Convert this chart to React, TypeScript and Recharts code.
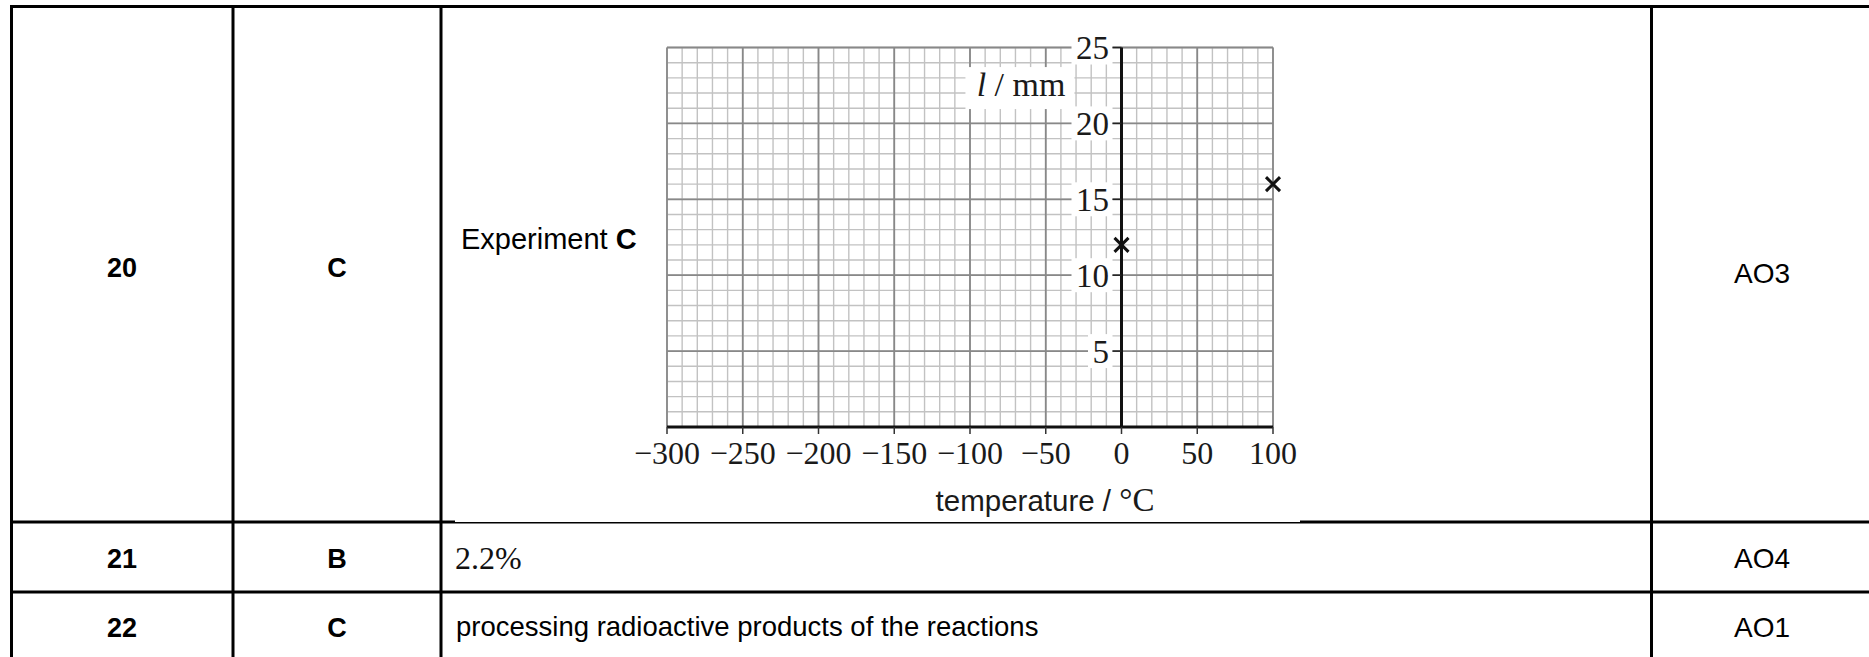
import React from 'react';
import {
  ScatterChart,
  Scatter,
  XAxis,
  YAxis,
  ReferenceLine,
  ReferenceDot,
  Label,
} from 'recharts';

// ---- chart data ----
const temperatureC = [0, 100];
const lengthMm = [12, 16];
const xTicks = [-300, -250, -200, -150, -100, -50, 0, 50, 100];
const yTicks = [0, 5, 10, 15, 20, 25];
const yLabelTicks = [5, 10, 15, 20, 25];
const xMinorTicks = Array.from({ length: 41 }, (_, i) => -300 + i * 10);
const yMinorTicks = Array.from({ length: 26 }, (_, i) => i);
const xAxisTitle = 'temperature / ';
const xAxisUnit = '°C';
const yAxisSymbol = 'l';
const yAxisUnit = ' / mm';

// ---- table data ----
const questionNumbers = ['20', '21', '22'];
const answerKeys = ['C', 'B', 'C'];
const objectives = ['AO3', 'AO4', 'AO1'];
const experimentLabel = 'Experiment ';
const experimentLetter = 'C';
const answerNotes = ['2.2%', 'processing radioactive products of the reactions'];

const SERIF = '"Liberation Serif", "Times New Roman", serif';
const SANS = '"Liberation Sans", Arial, sans-serif';

const points = temperatureC.map((t, i) => ({ t, l: lengthMm[i] }));

const fmtX = (v: number) => (v < 0 ? '\u2212' + Math.abs(v) : String(v));

const MINOR = '#c2c2c2';
const MAJOR = '#888888';

const XMark = (props: any) => {
  const { cx, cy } = props;
  if (cx == null || cy == null) return null;
  const h = 7;
  return (
    <g stroke="#111" strokeWidth={3}>
      <line x1={cx - h} y1={cy - h} x2={cx + h} y2={cy + h} />
      <line x1={cx - h} y1={cy + h} x2={cx + h} y2={cy - h} />
    </g>
  );
};

const YTick = ({ cx, cy, value }: any) => {
  if (cx == null || cy == null) return null;
  const tw = String(value).length * 16.5;
  return (
    <g>
      <rect x={cx - 13 - tw - 4} y={cy - 17} width={tw + 8} height={34} fill="#fff" />
      <line x1={cx - 9} x2={cx} y1={cy} y2={cy} stroke="#222" strokeWidth={1.5} />
      <text x={cx - 12.5} y={cy + 11.5} textAnchor="end" fontFamily={SERIF} fontSize={33} fill="#1a1a1a">
        {value}
      </text>
    </g>
  );
};

const YTitle = ({ cx, cy }: any) => {
  if (cx == null || cy == null) return null;
  return (
    <g>
      <rect x={cx - 100} y={cy - 29} width={109} height={42} fill="#fff" />
      <text x={cx} y={cy} textAnchor="end" fontFamily={SERIF} fontSize={34} fill="#1a1a1a">
        <tspan fontStyle="italic">{yAxisSymbol}</tspan>
        <tspan>{yAxisUnit}</tspan>
      </text>
    </g>
  );
};

const XTitle = (props: any) => {
  const vb = props.viewBox || {};
  const x = (vb.x || 0) + (vb.width || 0) / 2 + 75;
  const y = (vb.y || 0) + 84;
  return (
    <text x={x} y={y} textAnchor="middle" fontSize={29.5} fill="#1a1a1a">
      <tspan fontFamily={SANS}>{xAxisTitle}</tspan>
      <tspan fontFamily={SERIF} fontSize={33}>{xAxisUnit}</tspan>
    </text>
  );
};

const Chart = () => (
  <ScatterChart
    width={720}
    height={510}
    margin={{ top: 27.5, right: 47, left: 67, bottom: 23 }}
  >
    <YAxis yAxisId="major" type="number" dataKey="l" domain={[0, 25]} ticks={yTicks} hide />
    <XAxis
      xAxisId="major"
      type="number"
      dataKey="t"
      domain={[-300, 100]}
      ticks={xTicks}
      interval={0}
      height={80}
      tickFormatter={fmtX}
      tick={{ fontFamily: SERIF, fontSize: 32, fill: '#1a1a1a' }}
      tickSize={7}
      tickMargin={7}
      tickLine={{ stroke: '#333', strokeWidth: 1.5 }}
      axisLine={{ stroke: '#111', strokeWidth: 3 }}
    >
      <Label content={XTitle} />
    </XAxis>
    {xMinorTicks.map((v) => (
      <ReferenceLine key={'xm' + v} xAxisId="major" yAxisId="major" x={v} stroke={MINOR} strokeWidth={1.4} />
    ))}
    {yMinorTicks.map((v) => (
      <ReferenceLine key={'ym' + v} xAxisId="major" yAxisId="major" y={v} stroke={MINOR} strokeWidth={1.4} />
    ))}
    {xTicks.map((v) => (
      <ReferenceLine key={'xM' + v} xAxisId="major" yAxisId="major" x={v} stroke={MAJOR} strokeWidth={1.8} />
    ))}
    {yTicks.slice(1).map((v) => (
      <ReferenceLine key={'yM' + v} xAxisId="major" yAxisId="major" y={v} stroke={MAJOR} strokeWidth={1.8} />
    ))}
    <ReferenceLine xAxisId="major" yAxisId="major" x={0} stroke="#111" strokeWidth={3} />
    {yLabelTicks.map((v) => (
      <ReferenceDot
        key={v}
        xAxisId="major"
        yAxisId="major"
        x={0}
        y={v}
        r={1}
        ifOverflow="visible"
        shape={(p: any) => <YTick cx={p.cx} cy={p.cy} value={v} />}
      />
    ))}
    <ReferenceDot
      xAxisId="major"
      yAxisId="major"
      x={-37}
      y={21.8}
      r={1}
      ifOverflow="visible"
      shape={(p: any) => <YTitle cx={p.cx} cy={p.cy} />}
    />
    <Scatter
      xAxisId="major"
      yAxisId="major"
      data={points}
      isAnimationActive={false}
      shape={(p: any) => <XMark cx={p.cx} cy={p.cy} />}
    />
  </ScatterChart>
);

const Table = () => {
  const rowBaselines = [277, 568, 637];
  const colCenters = [122, 337, 1762];
  return (
    <svg width={1869} height={657} style={{ position: 'absolute', left: 0, top: 0 }}>
      <rect x={10} y={5} width={1859} height={3} fill="#000" />
      <rect x={10} y={5} width={3} height={652} fill="#000" />
      <rect x={231.5} y={5} width={3} height={652} fill="#000" />
      <rect x={439.5} y={5} width={3} height={652} fill="#000" />
      <rect x={1650} y={5} width={3} height={652} fill="#000" />
      <rect x={10} y={520.5} width={445} height={3} fill="#000" />
      <rect x={455} y={522} width={845} height={1.5} fill="#000" />
      <rect x={1300} y={520.5} width={569} height={3} fill="#000" />
      <rect x={10} y={590.5} width={1859} height={3} fill="#000" />
      {questionNumbers.map((q, i) => (
        <text key={'q' + i} x={colCenters[0]} y={rowBaselines[i]} textAnchor="middle" fontFamily={SANS} fontWeight="bold" fontSize={27} fill="#000">
          {q}
        </text>
      ))}
      {answerKeys.map((a, i) => (
        <text key={'a' + i} x={colCenters[1]} y={rowBaselines[i]} textAnchor="middle" fontFamily={SANS} fontWeight="bold" fontSize={27} fill="#000">
          {a}
        </text>
      ))}
      {objectives.map((o, i) => (
        <text key={'o' + i} x={colCenters[2]} y={i === 0 ? 283 : rowBaselines[i]} textAnchor="middle" fontFamily={SANS} fontSize={28} fill="#000">
          {o}
        </text>
      ))}
      <text x={461} y={249} fontFamily={SANS} fontSize={29} fill="#000">
        {experimentLabel}
        <tspan fontWeight="bold">{experimentLetter}</tspan>
      </text>
      <text x={455} y={568.5} fontFamily={SERIF} fontSize={32} fill="#111">
        {answerNotes[0]}
      </text>
      <text x={456} y={636} fontFamily={SANS} fontSize={27.5} fill="#000">
        {answerNotes[1]}
      </text>
    </svg>
  );
};

export default function App() {
  return (
    <div style={{ position: 'absolute', left: 0, top: 0, width: 1869, height: 657, background: '#fff', overflow: 'hidden' }}>
      <Table />
      <div style={{ position: 'absolute', left: 600, top: 20, width: 720, height: 510 }}>
        <Chart />
      </div>
    </div>
  );
}
